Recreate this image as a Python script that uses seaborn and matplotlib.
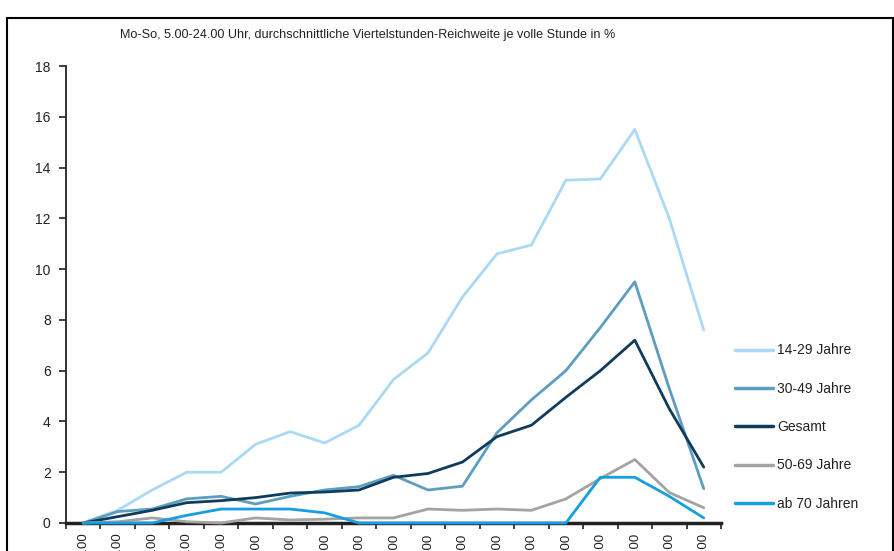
import numpy as np
import pandas as pd
import matplotlib
matplotlib.use("Agg")
import matplotlib.pyplot as plt
from matplotlib.patches import Rectangle
from matplotlib.ticker import FixedLocator
import seaborn as sns

# hours shown on the x axis (labels are cut off at the bottom in the source)
hours = ["5.00", "6.00", "7.00", "8.00", "9.00", "10.00", "11.00", "12.00", "13.00",
         "14.00", "15.00", "16.00", "17.00", "18.00", "19.00", "20.00", "21.00",
         "22.00", "23.00"]

jahre_14_29 = [0, 0.5, 1.3, 2.0, 2.0, 3.1, 3.6, 3.15, 3.85, 5.65, 6.7, 8.9, 10.6,
               10.95, 13.5, 13.55, 15.5, 12.0, 7.6]
jahre_30_49 = [0, 0.45, 0.55, 0.95, 1.05, 0.75, 1.05, 1.3, 1.43, 1.88, 1.3, 1.45,
               3.55, 4.85, 6.0, 7.7, 9.5, 5.3, 1.35]
gesamt = [0, 0.25, 0.5, 0.8, 0.88, 1.0, 1.18, 1.22, 1.3, 1.8, 1.95, 2.4, 3.4, 3.85,
          4.95, 6.0, 7.2, 4.5, 2.2]
jahre_50_69 = [0, 0.05, 0.2, 0.05, 0.0, 0.2, 0.12, 0.15, 0.2, 0.2, 0.55, 0.5, 0.55,
               0.5, 0.95, 1.75, 2.5, 1.2, 0.6]
ab_70 = [0, 0, 0, 0.3, 0.55, 0.55, 0.55, 0.4, 0, 0, 0, 0, 0, 0, 0, 1.8, 1.8,
         1.05, 0.2]

series = {
    "14-29 Jahre": jahre_14_29,
    "30-49 Jahre": jahre_30_49,
    "Gesamt": gesamt,
    "50-69 Jahre": jahre_50_69,
    "ab 70 Jahren": ab_70,
}
colors = {
    "14-29 Jahre": "#a9d9f6",
    "30-49 Jahre": "#5d9dbf",
    "Gesamt": "#0f3c5c",
    "50-69 Jahre": "#a3a3a3",
    "ab 70 Jahren": "#159fe3",
}

rows = []
for name, vals in series.items():
    for i, v in enumerate(vals):
        rows.append({"pos": i, "value": v, "gruppe": name})
df = pd.DataFrame(rows)

sns.set_theme(style="white")
plt.rcParams["font.family"] = ["Liberation Sans Narrow", "Liberation Sans", "DejaVu Sans"]

fig = plt.figure(figsize=(8.95, 5.51), dpi=100)
ax = fig.add_axes([66 / 895, 1 - 523 / 551, 655 / 895, 457 / 551])

sns.lineplot(data=df, x="pos", y="value", hue="gruppe", hue_order=list(series.keys()),
             palette=colors, linewidth=2.0, sort=False, ax=ax, clip_on=False)

ax.set_xlim(-0.5, len(hours) - 0.5)
ax.set_ylim(0, 18)
ax.set_yticks(np.arange(0, 19, 2))
ax.set_yticklabels([str(v) for v in range(0, 19, 2)], family="Liberation Sans", fontsize=10)
ax.set_xticks(range(len(hours)))
ax.set_xticklabels(hours, rotation=90, fontsize=9.5, color="#222222", va="top")
ax.xaxis.set_minor_locator(FixedLocator(np.arange(-0.5, len(hours), 1.0)))
ax.tick_params(axis="x", which="major", length=0, pad=7)
ax.tick_params(axis="x", which="minor", length=4, width=1.2, color="#222222", direction="out", bottom=True)
ax.tick_params(axis="y", length=5, width=1.2, color="#222222", direction="out", left=True,
               labelcolor="#222222", pad=6)
ax.set_xlabel("")
ax.set_ylabel("")
ax.grid(False)
sns.despine(ax=ax)
ax.spines["left"].set_color("#222222")
ax.spines["left"].set_linewidth(1.3)
ax.spines["bottom"].set_color("#222222")
ax.spines["bottom"].set_linewidth(2.5)
ax.spines["bottom"].set_zorder(0)

leg = ax.legend(loc="upper left", bbox_to_anchor=(1.0128, 0.405), frameon=False,
                fontsize=10, handlelength=2.73, handletextpad=0.29, labelspacing=1.75,
                borderaxespad=0.0)
for line in leg.get_lines():
    line.set_linewidth(2.5)
for txt in leg.get_texts():
    txt.set_color("#222222")

fig.text(120 / 895, 1 - 35 / 551,
         "Mo-So, 5.00-24.00 Uhr, durchschnittliche Viertelstunden-Reichweite je volle Stunde in %",
         fontsize=9.1, color="#222222", va="center", ha="left")

# black frame of the original figure box
fig.patches.append(Rectangle((7 / 895, -0.2), 886 / 895, 0.2 + (1 - 18 / 551),
                             transform=fig.transFigure, fill=False, edgecolor="black",
                             linewidth=1.5))

fig.savefig("out.png", dpi=100)
